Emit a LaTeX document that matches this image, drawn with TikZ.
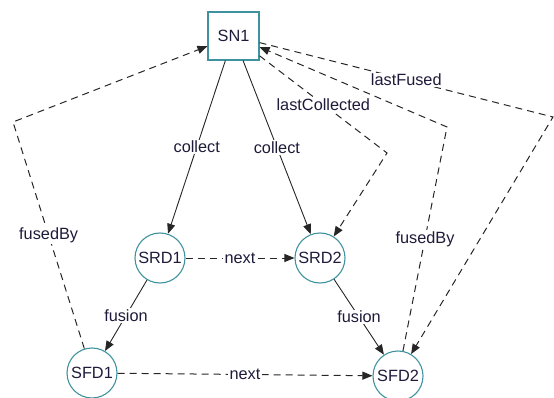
\documentclass[tikz,border=0pt]{standalone}
\usepackage{fontspec}
\setmainfont{Liberation Sans}
\usetikzlibrary{arrows.meta,positioning,calc}
\definecolor{TEAL}{HTML}{3F939E}
\definecolor{INK}{HTML}{1E1B3A}

\begin{document}
\begin{tikzpicture}[x=1pt,y=-1pt,font=\fontsize{16.3}{19}\selectfont]
\tikzstyle{vertex}=[draw=TEAL,line width=1.1pt,text=INK,inner sep=0pt]
\tikzstyle{sensor node}=[vertex,rectangle,minimum width=51pt,minimum height=48pt]
\tikzstyle{data node}=[vertex,circle,minimum size=50pt]
\tikzstyle{myEdge}=[draw=black!85,line width=0.9pt,-{Triangle[length=10pt,width=8pt]}]
\tikzstyle{dashEdge}=[myEdge,draw=black!85,line width=1pt,dash pattern=on 7pt off 5pt]
\tikzstyle{annot}=[fill=white,text=INK,inner sep=1.2pt]

\useasboundingbox (0,0) rectangle (554,398);

% nodes
\node[sensor node] (SN1) at (233.5,36) {SN1};
\node[data node] (SRD1) at (160,258) {SRD1};
\node[data node] (SRD2) at (320,258) {SRD2};
\node[data node] (SFD1) at (92,373) {SFD1};
\node[data node] (SFD2) at (398,376) {SFD2};

% bends of the long links
\coordinate (cornerLC) at (387,153);
\coordinate (cornerLF) at (553,117);
\coordinate (cornerFB1) at (13,122);
\coordinate (cornerFB2) at (447,127);

% solid links
\draw[myEdge] (SN1) -- node[annot] {collect} (SRD1);
\draw[myEdge] (SN1) -- node[annot] {collect} (SRD2);
\draw[myEdge] (SRD1) -- node[annot] {fusion} (SFD1);
\draw[myEdge] (SRD2) -- node[annot] {fusion} (SFD2);

% dashed links
\draw[dashEdge] (SRD1) -- node[annot] {next} (SRD2);
\draw[dashEdge] (SFD1) -- node[annot] {next} (SFD2);
\draw[dashEdge] (SN1) -- node[annot] {lastCollected} (cornerLC) -- (SRD2);
\draw[dashEdge] (SN1) -- node[annot] {lastFused} (cornerLF) -- (SFD2);
\draw[dashEdge] (SFD1) -- node[annot] {fusedBy} (cornerFB1) -- (SN1);
\draw[dashEdge] (SFD2) -- node[annot] {fusedBy} (cornerFB2) -- (SN1);
\end{tikzpicture}
\end{document}
